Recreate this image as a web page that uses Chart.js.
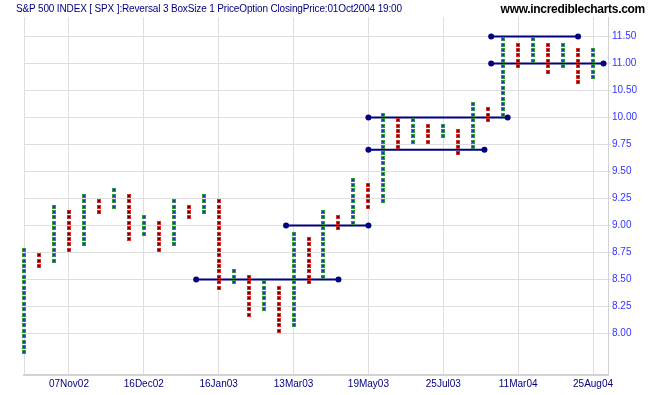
<!DOCTYPE html>
<html>
<head>
<meta charset="utf-8">
<script src="https://cdn.jsdelivr.net/npm/chart.js@4.4.1/dist/chart.umd.min.js"></script>
<style>
  html, body { margin: 0; padding: 0; background: #fff; }
  #wrap { position: relative; width: 651px; height: 395px; }
  #title { position: absolute; left: 16px; top: 3px; font: 10px "Liberation Sans", Arial, sans-serif; color: #000080; white-space: nowrap; letter-spacing: -0.15px; }
  #site { position: absolute; right: 6px; top: 2px; font: bold 12px "Liberation Sans", Arial, sans-serif; color: #000; letter-spacing: -0.3px; }
</style>
</head>
<body>
<div id="wrap">
  <canvas id="pnf" width="651" height="395"></canvas>
  <div id="title">S&amp;P 500 INDEX [ SPX ]:Reversal 3 BoxSize 1 PriceOption ClosingPrice:01Oct2004 19:00</div>
  <div id="site">www.incrediblecharts.com</div>
</div>
<script>
// Point & figure columns, one entry per column (box numbers, 0 = the 8.00 line)
const columnKind = ['X','O','X','O','X','O','X','O','X','O','X','O','X','O','X','O','X','O','X','O',
                    'X','O','X','O','X','O','X','O','X','O','X','O','X','O','X','O','X','O','X'];
const columnLow  = [-4, 12, 13, 15, 16, 22, 23, 17, 18, 15, 16, 21, 22,  8,  9,  3,  4,  0,  1,  9,
                    10, 19, 20, 23, 24, 34, 35, 35, 36, 33, 34, 39, 40, 49, 50, 48, 49, 46, 47];
const columnHigh = [15, 14, 23, 22, 25, 24, 26, 25, 21, 20, 24, 23, 25, 24, 11, 10,  9,  8, 18, 17,
                    22, 21, 28, 27, 40, 39, 39, 38, 38, 37, 42, 41, 54, 53, 54, 53, 53, 52, 52];

// trend lines: box level, first and last column
const trendLevel = [10, 20, 34, 40, 50, 55];
const trendFrom  = [11.5, 17.5, 23, 23, 31.2, 31.2];
const trendTo    = [21, 23, 30.75, 32.3, 38.7, 37];

// axis labels
const yTickBoxes  = [0, 5, 10, 15, 20, 25, 30, 35, 40, 45, 50, 55];
const yTickLabels = ['8.00','8.25','8.50','8.75','9.00','9.25','9.50','9.75','10.00','10.50','11.00','11.50'];
const dateCols    = [3, 8, 13, 18, 23, 28, 33, 38];
const dateLabels  = ['07Nov02','16Dec02','16Jan03','13Mar03','19May03','25Jul03','11Mar04','25Aug04'];

function makeMark(edge, core) {
  const c = document.createElement('canvas');
  c.width = 4; c.height = 4;
  const g = c.getContext('2d');
  g.fillStyle = edge; g.fillRect(0, 0, 4, 4);
  g.fillStyle = core; g.fillRect(1, 1, 2, 2);
  return c;
}
const riseMark = makeMark('#2f9a3c', '#2233cc');
const fallMark = makeMark('#e02828', '#5a0000');

function boxes(kind) {
  const pts = [];
  columnKind.forEach((k, i) => {
    if (k !== kind) return;
    for (let b = columnLow[i]; b <= columnHigh[i]; b++) pts.push({ x: i, y: b + 0.5 });
  });
  return pts;
}

const trendSets = trendLevel.map((lvl, i) => ({
  type: 'line',
  data: [{ x: trendFrom[i], y: lvl }, { x: trendTo[i], y: lvl }],
  borderColor: '#000080',
  backgroundColor: '#000080',
  borderWidth: 2,
  pointRadius: 3,
  pointBorderWidth: 0,
  clip: false,
  order: 2
}));

// keep the box marks on whole pixels
const snapPoints = {
  id: 'snapPoints',
  afterDatasetsUpdate(chart) {
    chart.data.datasets.forEach((ds, i) => {
      if (!ds.snap) return;
      chart.getDatasetMeta(i).data.forEach(pt => { pt.x = Math.round(pt.x); pt.y = Math.round(pt.y); });
    });
  }
};

const gridGrey = '#dedede';

new Chart(document.getElementById('pnf'), {
  type: 'scatter',
  data: {
    datasets: [
      { data: boxes('X'), pointStyle: riseMark, pointRadius: 2, snap: true, clip: false, order: 1 },
      { data: boxes('O'), pointStyle: fallMark, pointRadius: 2, snap: true, clip: false, order: 1 },
      ...trendSets
    ]
  },
  options: {
    responsive: false,
    devicePixelRatio: 1,
    animation: false,
    layout: { padding: { left: 24, top: 17, right: 0, bottom: 0 } },
    plugins: { legend: { display: false }, tooltip: { enabled: false } },
    scales: {
      x: {
        type: 'linear',
        min: 0,
        max: 39,
        afterBuildTicks: s => { s.ticks = [0, ...dateCols, 39].map(v => ({ value: v })); },
        afterFit: s => { s.height = 20; },
        ticks: {
          autoSkip: false,
          maxRotation: 0,
          padding: 3,
          color: '#000080',
          font: { family: 'Liberation Sans', size: 10 },
          callback: v => { const i = dateCols.indexOf(v); return i < 0 ? '' : dateLabels[i]; }
        },
        grid: { color: gridGrey, drawTicks: false },
        border: { display: true, color: '#d2d2d2', width: 2 }
      },
      y: {
        type: 'linear',
        position: 'right',
        min: -7.7,
        max: 58.6,
        afterBuildTicks: s => { s.ticks = yTickBoxes.map(v => ({ value: v })); },
        afterFit: s => { s.width = 43; },
        ticks: {
          padding: 1,
          color: '#3333ff',
          font: { family: 'Liberation Sans', size: 10 },
          callback: v => { const i = yTickBoxes.indexOf(v); return i < 0 ? '' : yTickLabels[i]; }
        },
        grid: { color: gridGrey, tickLength: 3 },
        border: { display: true, color: '#d2d2d2', width: 1 }
      }
    }
  },
  plugins: [snapPoints]
});
</script>
</body>
</html>
